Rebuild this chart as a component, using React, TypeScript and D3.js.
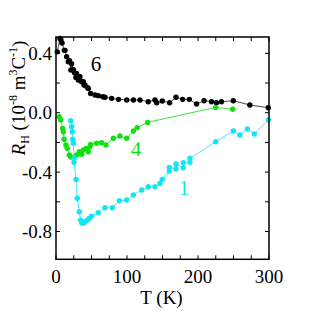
import React from "react";
import * as d3 from "d3";

const xTicksMajor = [0, 100, 200, 300];
const xTicksMinor = [25, 50, 75, 125, 150, 175, 225, 250, 275];
const yTicksMajor = [0.4, 0.0, -0.4, -0.8];
const yTicksMinor = [0.2, -0.2, -0.6];

const tBlack = [1.8, 5.6, 7, 8.5, 11.7, 12.7, 15, 17.3, 19, 21, 22, 24.4, 26, 28, 29, 31.4, 33.8, 36, 38.5, 39.4, 40.8, 44, 45.5, 48.8, 54.9, 59.6, 66, 69, 78.4, 88, 99.6, 109, 118.3, 130, 139.4, 141.8, 149.7, 160, 169, 178.4, 187.8, 198, 208.5, 219, 226, 233, 249.7, 273, 299];
const rBlack = [0.41, 0.5, 0.49, 0.47, 0.42, 0.42, 0.377, 0.343, 0.35, 0.288, 0.33, 0.29, 0.27, 0.238, 0.265, 0.22, 0.242, 0.209, 0.209, 0.187, 0.187, 0.171, 0.164, 0.13, 0.119, 0.115, 0.108, 0.104, 0.097, 0.09, 0.086, 0.086, 0.086, 0.074, 0.086, 0.067, 0.079, 0.067, 0.104, 0.09, 0.09, 0.059, 0.081, 0.074, 0.067, 0.074, 0.081, 0.052, 0.034];

const tGreen = [4.6, 6.6, 9.4, 10.3, 11.3, 14, 15.9, 18.7, 20.7, 24.4, 29, 32.8, 36.2, 38.5, 42.3, 45.5, 47.9, 48.8, 57.3, 64.3, 70.4, 80.8, 90, 99.6, 109, 114.5, 129, 225, 248.8];
const rGreen = [-0.027, -0.049, -0.105, -0.128, -0.179, -0.217, -0.24, -0.285, -0.296, -0.307, -0.285, -0.263, -0.28, -0.25, -0.24, -0.263, -0.229, -0.213, -0.206, -0.202, -0.217, -0.172, -0.157, -0.172, -0.123, -0.101, -0.065, 0.036, 0.023];

const tCyan = [20.7, 22, 22.9, 23.5, 24.4, 25.4, 25.4, 28.2, 30, 32.8, 34.8, 36.2, 38.5, 40.8, 44, 46.9, 50.3, 59.6, 69, 79.3, 89.2, 99.6, 109, 120.7, 130, 139.4, 146.5, 149.7, 159.6, 159.6, 169, 169, 179.3, 179.3, 188.7, 188.7, 225, 249.7, 259, 269.5, 279.3, 299];
const rCyan = [-0.054, -0.094, -0.128, -0.179, -0.206, -0.307, -0.334, -0.449, -0.576, -0.667, -0.723, -0.741, -0.745, -0.734, -0.723, -0.711, -0.696, -0.673, -0.64, -0.64, -0.593, -0.588, -0.554, -0.52, -0.498, -0.498, -0.476, -0.449, -0.393, -0.368, -0.379, -0.345, -0.37, -0.337, -0.334, -0.307, -0.195, -0.123, -0.15, -0.11, -0.143, -0.049];

const seriesNames = ["6", "4", "1"];

export default function App() {
  const left = 56, right = 269, top = 37, bottom = 259.3;
  const x = d3.scaleLinear().domain([0, 300]).range([left, right]);
  const y = d3.scaleLinear().domain([-0.987, 0.51]).range([bottom, top]);

  const series = [
    { name: seriesNames[0], t: tBlack, r: rBlack, color: "#000000", lineColor: "#333333", lx: 96, ly: 64 },
    { name: seriesNames[1], t: tGreen, r: rGreen, color: "#11e011", lineColor: "#22e022", lx: 136, ly: 149 },
    { name: seriesNames[2], t: tCyan, r: rCyan, color: "#11e6f6", lineColor: "#33e6f6", lx: 184, ly: 188 },
  ];

  const line = d3.line<[number, number]>().x((d) => x(d[0])).y((d) => y(d[1]));
  const font = "'Liberation Serif', 'Times New Roman', serif";
  const fs = 19;
  const tl = 4;

  return (
    <svg width={312} height={312} style={{ position: "absolute", left: 0, top: 0, background: "#fff" }} fontFamily={font}>
      <rect x={0} y={0} width={312} height={312} fill="#fff" />
      {series.map((s) => {
        const pts: [number, number][] = s.t.map((t, i) => [t, s.r[i]]);
        return (
          <g key={s.name}>
            <path d={line(pts) || ""} fill="none" stroke={s.lineColor} strokeWidth={0.9} />
            {pts.map((p, i) => (
              <circle key={i} cx={x(p[0])} cy={y(p[1])} r={2.7} fill={s.color} />
            ))}
          </g>
        );
      })}
      <rect x={left} y={top} width={right - left} height={bottom - top} fill="none" stroke="#000" strokeWidth={1.5} />
      {[...xTicksMajor, ...xTicksMinor].map((t) => (
        <g key={"xt" + t}>
          <line x1={x(t)} x2={x(t)} y1={bottom} y2={bottom - tl} stroke="#000" strokeWidth={1} />
          <line x1={x(t)} x2={x(t)} y1={top} y2={top + tl} stroke="#000" strokeWidth={1} />
        </g>
      ))}
      {[...yTicksMajor, ...yTicksMinor].map((t) => (
        <g key={"yt" + t}>
          <line x1={left} x2={left + tl} y1={y(t)} y2={y(t)} stroke="#000" strokeWidth={1} />
          <line x1={right} x2={right - tl} y1={y(t)} y2={y(t)} stroke="#000" strokeWidth={1} />
        </g>
      ))}
      {xTicksMajor.map((t) => (
        <text key={"xl" + t} x={x(t)} y={283} textAnchor="middle" fontSize={fs} fill="#000">
          {t}
        </text>
      ))}
      {yTicksMajor.map((t) => (
        <text key={"yl" + t} x={52} y={y(t) + 6.5} textAnchor="end" fontSize={fs} fill="#000">
          {d3.format(".1f")(t).replace("−", "-")}
        </text>
      ))}
      <text x={x(150) - 1} y={304} textAnchor="middle" fontSize={fs} fill="#000">
        T (K)
      </text>
      <text transform="translate(25,98) rotate(-90)" textAnchor="middle" fontSize={fs} fill="#000">
        <tspan fontStyle="italic">R</tspan>
        <tspan fontSize={12} dy={4}>H</tspan>
        <tspan dy={-4}> (10</tspan>
        <tspan fontSize={12} dy={-8}>-8</tspan>
        <tspan dy={8}> m</tspan>
        <tspan fontSize={12} dy={-8}>3</tspan>
        <tspan dy={8}>C</tspan>
        <tspan fontSize={12} dy={-8}>-1</tspan>
        <tspan dy={8}>)</tspan>
      </text>
      {series.map((s) => (
        <text key={"lab" + s.name} x={s.lx} y={s.ly + 7} textAnchor="middle" fontSize={21} fill={s.color}>
          {s.name}
        </text>
      ))}
    </svg>
  );
}
